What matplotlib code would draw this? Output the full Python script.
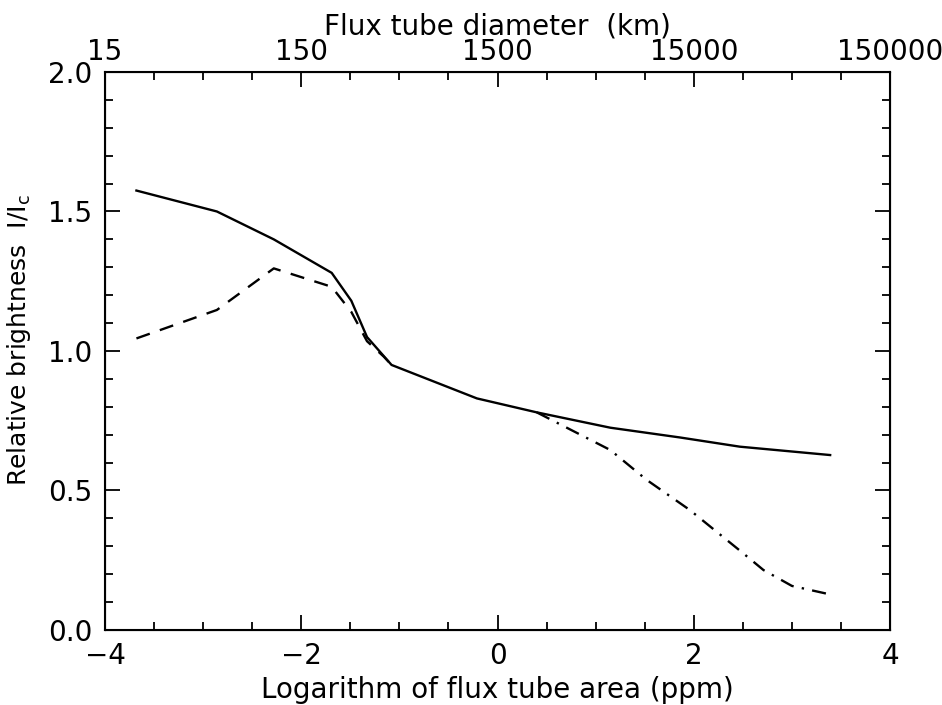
import numpy as np
import matplotlib
matplotlib.use('Agg')
import matplotlib.pyplot as plt
from matplotlib.ticker import MultipleLocator

# log10 flux tube area (ppm) vs relative brightness I/Ic
solid_x = [-3.68, -2.86, -2.28, -1.69, -1.49, -1.33, -1.08, -0.21, 0.40, 1.15, 1.86, 2.47, 3.39]
solid_y = [1.575, 1.50, 1.40, 1.28, 1.18, 1.05, 0.95, 0.83, 0.78, 0.725, 0.69, 0.657, 0.627]

dashed_x = [-3.68, -2.86, -2.28, -1.69, -1.49, -1.33, -1.16, -1.08]
dashed_y = [1.045, 1.147, 1.296, 1.230, 1.14, 1.035, 0.98, 0.95]

dashdot_x = [0.40, 1.15, 1.52, 1.96, 2.50, 2.71, 3.00, 3.37]
dashdot_y = [0.78, 0.645, 0.538, 0.430, 0.276, 0.215, 0.158, 0.129]

area_ticks = [-4, -2, 0, 2, 4]
diam_labels = ['15', '150', '1500', '15000', '150000']

plt.rcParams['font.family'] = ['DejaVu Sans']
fs = 20

fig = plt.figure(figsize=(9.42, 7.05), dpi=100)
ax = fig.add_axes([0.1115, 0.1064, 0.8333, 0.7915])

lw = 1.7
ax.plot(solid_x, solid_y, color='black', lw=lw)
ax.plot(dashed_x, dashed_y, color='black', lw=lw, dashes=(6, 4.5))
ax.plot(dashdot_x, dashdot_y, color='black', lw=lw, dashes=(6, 3.5, 1, 3.5))

ax.set_xlim(-4, 4)
ax.set_ylim(0, 2)
ax.xaxis.set_major_locator(MultipleLocator(2))
ax.xaxis.set_minor_locator(MultipleLocator(0.5))
ax.yaxis.set_major_locator(MultipleLocator(0.5))
ax.yaxis.set_minor_locator(MultipleLocator(0.1))
ax.xaxis.set_major_formatter(lambda v, p: f'{v:.0f}'.replace('-', '\u2212'))
ax.yaxis.set_major_formatter(lambda v, p: f'{v:.1f}')
ax.tick_params(which='both', direction='in', right=True, top=False, width=1.3,
               labelsize=fs, colors='black')
ax.tick_params(axis='x', which='major', length=11, pad=9)
ax.tick_params(axis='y', which='major', length=11, pad=9)
ax.tick_params(which='minor', length=6)
ax.set_xlabel('Logarithm of flux tube area (ppm)', fontsize=fs, labelpad=4)
ax.set_ylabel('Relative brightness  I/I$_\\mathrm{c}$', fontsize=18)
ax.yaxis.set_label_coords(-0.092, 0.52)
for s in ax.spines.values():
    s.set_linewidth(1.5)

ax2 = ax.twiny()
ax2.set_xlim(ax.get_xlim())
ax2.set_xticks(area_ticks)
ax2.set_xticklabels(diam_labels)
ax2.xaxis.set_minor_locator(MultipleLocator(0.5))
ax2.tick_params(which='both', direction='in', width=1.3, labelsize=fs, pad=4)
ax2.tick_params(which='major', length=11)
ax2.tick_params(which='minor', length=6)
ax2.set_xlabel('Flux tube diameter  (km)', fontsize=fs, labelpad=3)

fig.savefig('out.png', dpi=100)
